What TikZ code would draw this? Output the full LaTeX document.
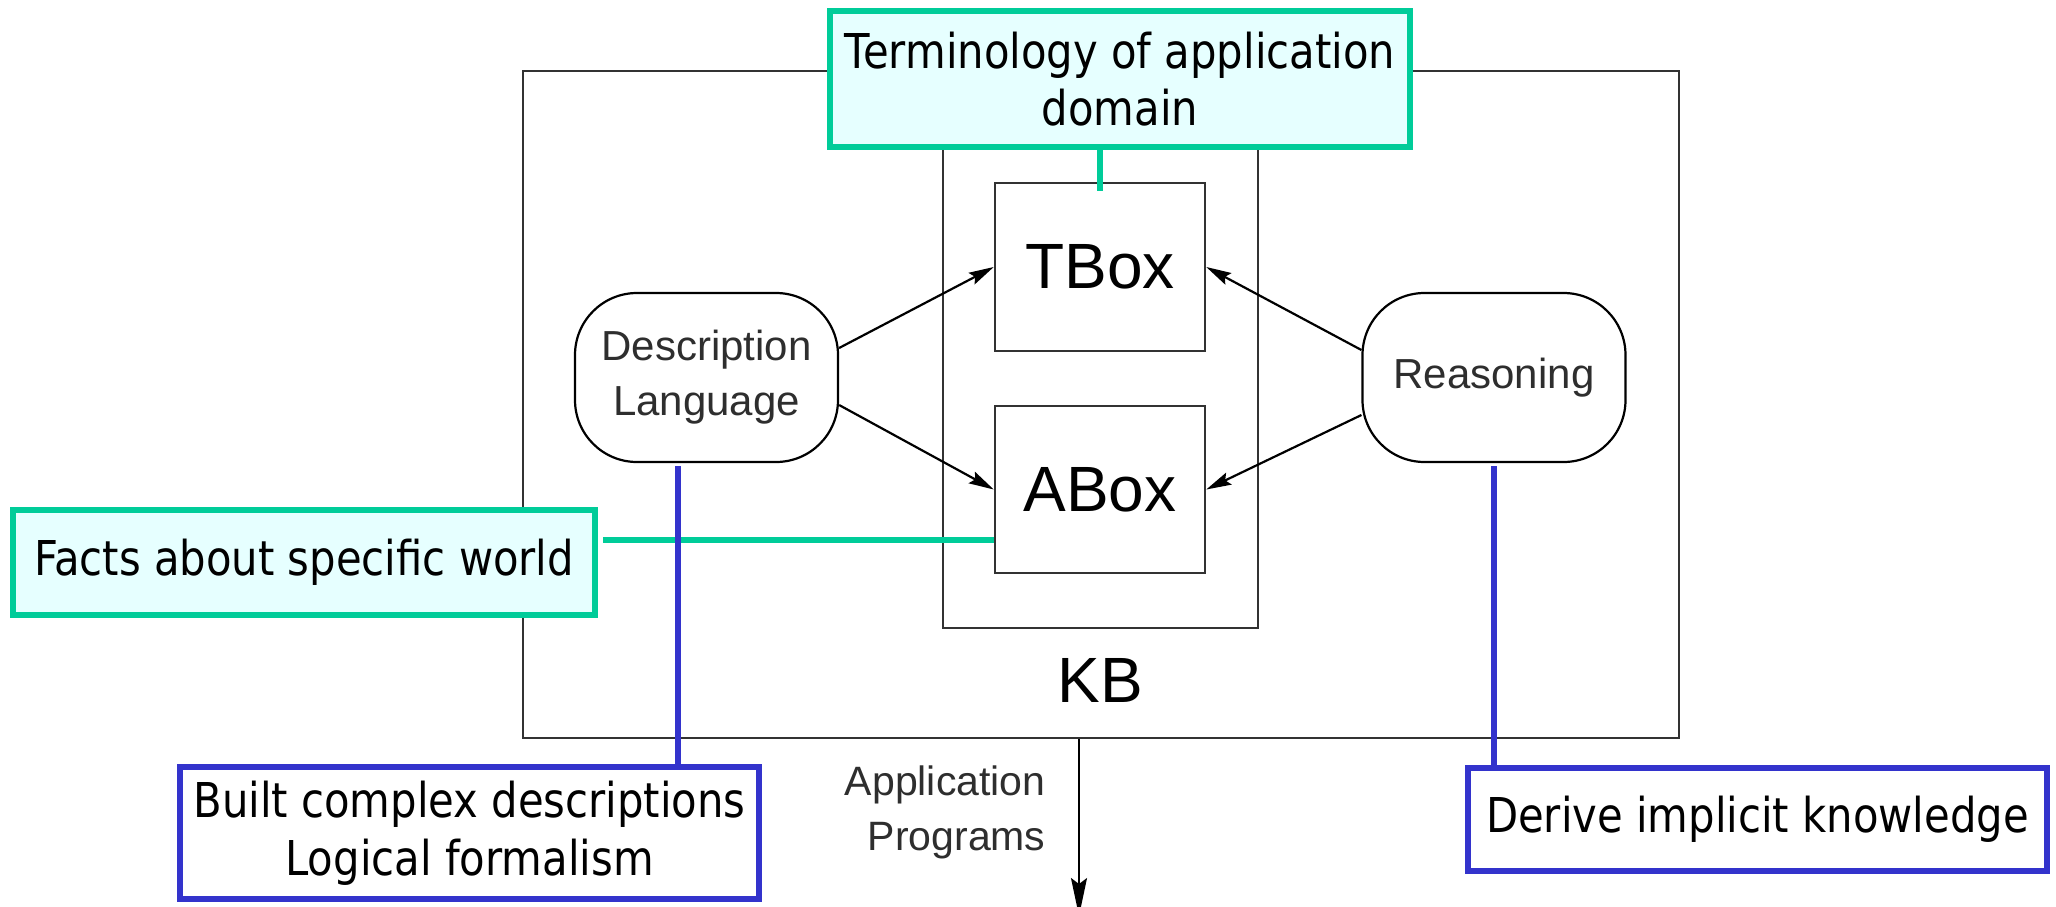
\documentclass[tikz,border=0pt]{standalone}
\usepackage{fontspec}
\setmainfont{Liberation Sans}
\newfontfamily\callfont[FakeStretch=0.87]{DejaVu Sans}
\usetikzlibrary{arrows.meta,calc}
\pgfdeclarelayer{fg}
\pgfsetlayers{main,fg}
\definecolor{tealc}{RGB}{0,204,153}
\definecolor{cyanfill}{RGB}{230,255,255}
\definecolor{bluec}{RGB}{51,51,204}
\definecolor{boxgray}{RGB}{50,50,50}
\begin{document}
\begin{tikzpicture}[x=1pt,y=-1pt,
  frame/.style={draw=boxgray,line width=2.5pt,inner sep=0pt},
  bigtext/.style={font=\fontsize{64}{70}\selectfont},
  bubble/.style={draw=black,line width=2.2pt,rounded corners=62pt,minimum width=263pt,minimum height=169pt,align=center,text=black!82,font=\fontsize{42}{55}\selectfont,inner sep=0pt},
  arr/.style={-{Stealth[length=25pt,width=13pt,inset=4pt]},line width=2.2pt},
  tcall/.style={draw=tealc,fill=cyanfill,line width=6pt,align=center,font=\callfont\fontsize{48}{57}\selectfont,inner sep=0pt},
  bcall/.style={draw=bluec,fill=white,line width=6pt,align=center,font=\callfont\fontsize{48}{58}\selectfont,inner sep=0pt},
  tline/.style={draw=tealc,line width=6pt},
  bline/.style={draw=bluec,line width=5.5pt},
]
\fill[white] (0,0) rectangle (2056,906);
\useasboundingbox (0,0) rectangle (2056,906);

% knowledge base frames
\node[frame,minimum width=1156pt,minimum height=667pt] (kb) at (1101,404.5) {};
\node[frame,minimum width=315pt,minimum height=488pt] (inner) at (1100.5,384) {};
\node[frame,minimum width=210pt,minimum height=168pt,bigtext] (tbox) at (1100,267) {TBox};
\node[frame,minimum width=210pt,minimum height=167pt,bigtext] (abox) at (1100,489.5) {ABox};
\node[bigtext] (kblabel) at (1100,680) {KB};

% bubbles
\node[bubble] (desc) at (706.5,377.5) {Description\\Language};
\node[bubble] (reason) at (1494,377.5) {Reasoning};

% arrows
\draw[arr] ([yshift=29.5pt]desc.east) -- (tbox.west);
\draw[arr] ([yshift=-27.5pt]desc.east) -- (abox.west);
\draw[arr] ([yshift=27.5pt]reason.west) -- (tbox.east);
\draw[arr] ([yshift=-37.5pt]reason.west) -- (abox.east);

% application programs
\coordinate (append) at (1079,916);
\draw[-{Stealth[length=38pt,width=16pt,inset=6pt]},line width=1.8pt] ([xshift=-22pt]kb.south) -- (append);
\node[anchor=east,align=right,font=\fontsize{41}{55}\selectfont,text=black!82] (app) at (1049,812) {Application\\Programs};

% callouts (foreground)
\begin{pgfonlayer}{fg}
\node[tcall,minimum width=580pt,minimum height=136pt] (term) at (1120,79) {Terminology of application\\domain};
\node[tcall,minimum width=582pt,minimum height=105pt] (facts) at (304,562.5) {Facts about specific world};
\node[bcall,minimum width=579pt,minimum height=132pt] (built) at (469.5,833) {Built complex descriptions\\Logical formalism};
\node[bcall,minimum width=579pt,minimum height=103pt] (derive) at (1757.5,819.5) {Derive implicit knowledge};
\end{pgfonlayer}

% callout connectors
\draw[tline] (tbox.north |- term.south) -- ([yshift=-9pt]tbox.north);
\coordinate (fs) at ([xshift=5pt,yshift=22.5pt]facts.east);
\draw[tline] (fs) -- (fs -| abox.west);
\coordinate (ds) at ([xshift=-28.5pt,yshift=-3pt]desc.south);
\draw[bline] (ds) -- (ds |- built.north);
\coordinate (rs) at ([yshift=-3pt]reason.south);
\draw[bline] (rs) -- (rs |- derive.north);
\end{tikzpicture}
\end{document}
